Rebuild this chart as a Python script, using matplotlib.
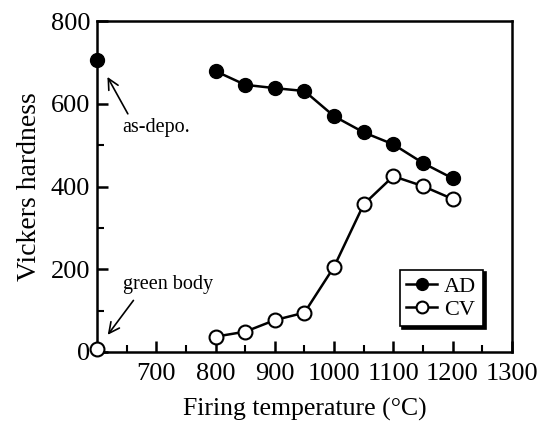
import matplotlib.pyplot as plt
import matplotlib as mpl
from matplotlib.ticker import MultipleLocator

mpl.rcParams['font.family'] = ['Liberation Serif', 'DejaVu Serif']
mpl.rcParams['font.size'] = 19

# data
temps = [800, 850, 900, 950, 1000, 1050, 1100, 1150, 1200]
ad_hv = [679, 646, 638, 631, 570, 531, 502, 457, 420]
cv_hv = [37, 49, 77, 95, 206, 357, 425, 401, 370]
asdepo_x, asdepo_hv = 600, 705
green_x, green_hv = 600, 8

fig = plt.figure(figsize=(5.37, 4.23), dpi=100)
ax = fig.add_axes([0.181, 0.168, 0.772, 0.782])

ax.plot(temps, ad_hv, color='black', lw=1.8, marker='o', ms=10,
        mfc='black', mec='black', label='AD', clip_on=False, zorder=3)
ax.plot(temps, cv_hv, color='black', lw=1.8, marker='o', ms=10,
        mfc='white', mec='black', mew=1.5, label='CV', clip_on=False, zorder=3)
ax.plot([asdepo_x], [asdepo_hv], 'o', ms=10, mfc='black', mec='black',
        clip_on=False, zorder=4)
ax.plot([green_x], [green_hv], 'o', ms=10, mfc='white', mec='black', mew=1.5,
        clip_on=False, zorder=4)

ax.annotate('', xy=(615, 671), xytext=(654, 570),
            arrowprops=dict(arrowstyle='->', color='black', lw=1.2))
ax.text(700, 543, 'as-depo.', fontsize=14.5, ha='center', va='center')
ax.annotate('', xy=(615, 36), xytext=(664, 130),
            arrowprops=dict(arrowstyle='->', color='black', lw=1.2))
ax.text(719, 162, 'green body', fontsize=14.5, ha='center', va='center')

ax.set_xlim(600, 1300)
ax.set_ylim(0, 800)
ax.set_xticks([700, 800, 900, 1000, 1100, 1200, 1300])
ax.set_yticks([0, 200, 400, 600, 800])
ax.xaxis.set_minor_locator(MultipleLocator(50))
ax.yaxis.set_minor_locator(MultipleLocator(100))
ax.tick_params(which='major', direction='in', length=8, width=1.8, pad=5,
               labelsize=19)
ax.tick_params(axis='x', which='major', pad=8)
ax.tick_params(which='minor', direction='in', length=5, width=1.5)
for s in ax.spines.values():
    s.set_linewidth(1.8)

ax.set_xlabel('Firing temperature (°C)', fontsize=18.5, labelpad=9)
ax.set_ylabel('Vickers hardness', fontsize=20, labelpad=6)

leg = ax.legend(loc='center', bbox_to_anchor=(0.83, 0.163), frameon=True,
                fancybox=False, shadow={'color': 'black', 'alpha': 1},
                edgecolor='black', fontsize=16, handlelength=1.4,
                handletextpad=0.3, borderpad=0.3, labelspacing=0.1,
                borderaxespad=0, markerscale=0.85)
leg.get_frame().set_linewidth(1.2)

fig.savefig('out.png', dpi=100)
